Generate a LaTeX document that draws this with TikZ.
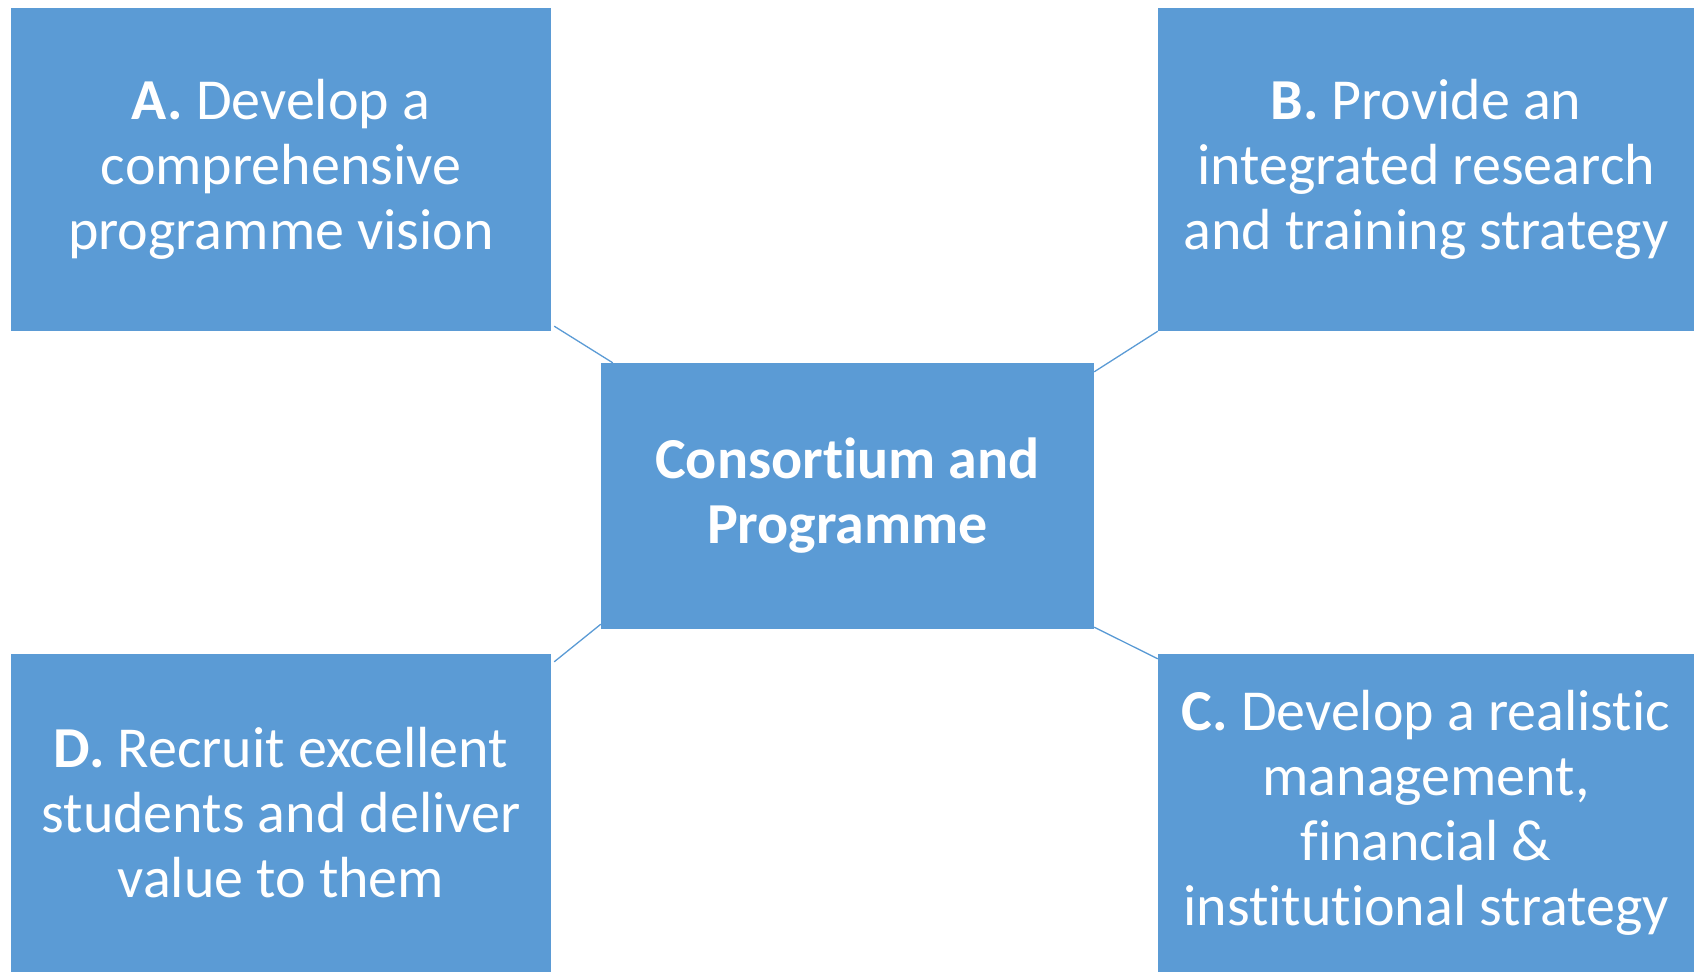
\documentclass[tikz,border=0pt]{standalone}
\usepackage{fontspec}
\setmainfont[Ligatures=NoCommon]{Carlito}
\usetikzlibrary{calc}
\definecolor{boxblue}{HTML}{5B9BD5}
\tikzset{
  box/.style={fill=boxblue, draw=none, text=white, inner sep=0pt, align=center,
    font=\fontsize{58}{65}\selectfont},
  link/.style={draw=boxblue, line width=1.3pt}
}
\begin{document}
\begin{tikzpicture}[x=1pt,y=-1pt]
\useasboundingbox (0,0) rectangle (1694,972);
\node[box, minimum width=540pt, minimum height=323pt] (A) at (281,169.5)
  {\textbf{A.} Develop a\\comprehensive\\programme vision};
\node[box, minimum width=536pt, minimum height=323pt] (B) at (1426,169.5)
  {\textbf{B.} Provide an\\integrated research\\and training strategy};
\node[box, minimum width=493pt, minimum height=266pt] (M) at (847.5,496)
  {\textbf{Consortium and}\\\textbf{Programme}};
\node[box, minimum width=540pt, minimum height=318pt] (D) at (281,813)
  {\textbf{D.} Recruit excellent\\students and deliver\\value to them};
\node[box, minimum width=536pt, minimum height=318pt] (C) at (1426,813)
  {\textbf{C.} Develop a realistic\\management,\\financial \&\\institutional strategy};
\draw[link] ($(A.south east)+(3,-5)$) -- ($(M.north west)+(12,0)$);
\draw[link] ($(M.north east)+(0,9)$) -- (B.south west);
\draw[link] ($(D.north east)+(3,8)$) -- ($(M.south west)+(0,-5)$);
\draw[link] ($(M.south east)+(0,-2)$) -- ($(C.north west)+(0,5)$);
\end{tikzpicture}
\end{document}
